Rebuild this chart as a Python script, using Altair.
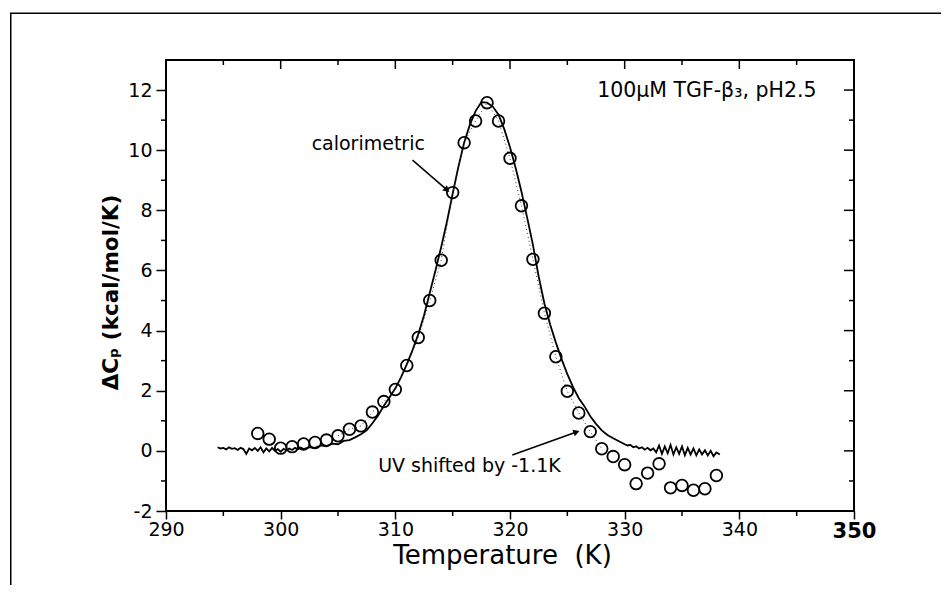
import altair as alt
import pandas as pd

# Calorimetric trace (K, kcal/mol/K)
cal_T = [294.5, 294.75, 295.0, 295.25, 295.5, 295.75, 296.0, 296.25, 296.5, 296.75,
         297.0, 297.25, 297.5, 297.75, 298.0, 298.25, 298.5, 298.75, 299.0, 299.25,
         299.5, 299.75, 300.0, 300.25, 300.5, 300.75, 301.0, 301.25, 301.5, 301.75,
         302.0, 302.5, 303.0, 303.5, 304.0, 304.5, 305.0, 305.5, 306.0, 306.5,
         307.0, 307.5, 308.0, 308.5, 309.0, 309.5, 310.0, 310.5, 311.0, 311.5,
         312.0, 312.5, 313.0, 313.5, 314.0, 314.5, 315.0, 315.5, 316.0, 316.5,
         317.0, 317.5, 318.0, 318.5, 319.0, 319.5, 320.0, 320.5, 321.0, 321.5,
         322.0, 322.5, 323.0, 323.5, 324.0, 324.5, 325.0, 325.5, 326.0, 326.5,
         327.0, 327.5, 328.0, 328.5, 329.0, 329.5, 330.0, 330.25, 330.5, 330.75,
         331.0, 331.25, 331.5, 331.75, 332.0, 332.25, 332.5, 332.75, 333.0, 333.25,
         333.5, 333.75, 334.0, 334.25, 334.5, 334.75, 335.0, 335.25, 335.5, 335.75,
         336.0, 336.25, 336.5, 336.75, 337.0, 337.25, 337.5, 337.75, 338.0, 338.3]
cal_Cp = [0.12, 0.08, 0.10, 0.05, 0.12, 0.07, 0.09, 0.03, 0.10, 0.06,
          -0.10, 0.08, 0.02, 0.10, 0.00, 0.12, -0.05, 0.08, -0.02, 0.10,
          0.00, 0.06, -0.03, 0.07, 0.02, 0.08, 0.03, 0.10, 0.05, 0.11,
          0.06, 0.12, 0.10, 0.18, 0.15, 0.24, 0.22, 0.33, 0.36, 0.45,
          0.55, 0.68, 0.92, 1.18, 1.50, 1.78, 2.08, 2.45, 2.88, 3.35,
          3.88, 4.50, 5.25, 6.00, 6.78, 7.62, 8.55, 9.45, 10.25, 10.85,
          11.30, 11.60, 11.58, 11.45, 11.18, 10.70, 10.10, 9.40, 8.62, 7.75,
          6.85, 5.80, 4.90, 4.20, 3.60, 3.05, 2.55, 2.12, 1.75, 1.48,
          1.15, 0.90, 0.68, 0.53, 0.42, 0.32, 0.22, 0.18, 0.20, 0.12,
          0.15, 0.08, 0.12, 0.04, 0.10, 0.02, 0.08, -0.05, 0.18, -0.10,
          0.15, -0.08, 0.20, -0.12, 0.12, -0.10, 0.15, -0.15, 0.10, -0.12,
          0.08, -0.15, 0.05, -0.12, 0.02, -0.15, 0.00, -0.18, -0.05, -0.12]

# UV data shifted by -1.1 K (open circles)
uv_T = [298, 299, 300, 301, 302, 303, 304, 305, 306, 307, 308, 309, 310, 311,
        312, 313, 314, 315, 316, 317, 318, 319, 320, 321, 322, 323, 324, 325,
        326, 327, 328, 329, 330, 331, 332, 333, 334, 335, 336, 337, 338]
uv_Cp = [0.58, 0.39, 0.09, 0.14, 0.23, 0.28, 0.36, 0.50, 0.72, 0.83, 1.29, 1.64,
         2.04, 2.84, 3.77, 5.00, 6.34, 8.59, 10.25, 10.97, 11.58, 10.97, 9.73,
         8.15, 6.37, 4.58, 3.13, 1.98, 1.26, 0.64, 0.07, -0.19, -0.46, -1.09,
         -0.74, -0.43, -1.23, -1.15, -1.31, -1.26, -0.82]

# Axis tick values
x_major = [290, 300, 310, 320, 330, 340, 350]
x_minor = [295, 305, 315, 325, 335, 345]
y_major = [-2, 0, 2, 4, 6, 8, 10, 12]
y_minor = [-1, 1, 3, 5, 7, 9, 11]

# Annotations
note_text = ["100μM TGF-β₃, pH2.5", "calorimetric", "UV shifted by -1.1K"]
note_T = [327.6, 302.7, 308.5]
note_v = [11.77, 10.0, -0.70]
note_size = [20.5, 19, 19]

arrow_id = ["cal", "cal", "uv", "uv"]
arrow_T = [311.5, 314.5, 320.2, 325.8]
arrow_v = [9.67, 8.68, -0.14, 0.63]
head_T = [314.5, 325.8]
head_v = [8.68, 0.63]
head_angle = [41, 340]

W, H = 688, 451
PAD_R = 87
FONT = "DejaVu Sans"

xs = alt.Scale(domain=[290, 350], nice=False, zero=False)
ys = alt.Scale(domain=[-2, 13], nice=False, zero=False)

cal = pd.DataFrame({"T": cal_T, "Cp": cal_Cp})
uv = pd.DataFrame({"T": uv_T, "Cp": uv_Cp})
uv_fit = uv[(uv["T"] >= 305) & (uv["T"] <= 328)]

base_x = alt.X("T:Q", scale=xs,
               axis=alt.Axis(values=x_major, tickSize=8, labelPadding=1, labelFlush=False,
                             title="Temperature\u00a0\u00a0(K)", titleFontSize=26,
                             titleFont=FONT, titleFontWeight="normal", titlePadding=1,
                             titleX=336,
                             labelFontSize=alt.ExprRef("datum.value == 350 ? 21 : 19"),
                             labelFontWeight=alt.ExprRef("datum.value == 350 ? 'bold' : 'normal'"),
                             labelExpr="'' + datum.value"))
base_y = alt.Y("Cp:Q", scale=ys,
               axis=alt.Axis(values=y_major, tickSize=10, labelPadding=4, labelFlush=False,
                             title="ΔCₚ (kcal/mol/K)", titleFontSize=21.5, titleFont=FONT,
                             titleFontWeight="bold", titlePadding=5, titleY=232,
                             labelExpr="'' + datum.value"))

line = alt.Chart(cal).mark_line(color="black", strokeWidth=1.8, clip=True).encode(
    x=base_x, y=base_y, order="T:Q")

fit = alt.Chart(uv_fit).mark_line(color="#333333", strokeWidth=1, strokeDash=[1, 3]).encode(
    x=alt.X("T:Q", scale=xs), y=alt.Y("Cp:Q", scale=ys), order="T:Q")

pts = alt.Chart(uv).mark_point(shape="circle", filled=False, color="black",
                               size=135, strokeWidth=1.8, opacity=1).encode(
    x=alt.X("T:Q", scale=xs), y=alt.Y("Cp:Q", scale=ys))

# extra ticks (minor + mirrored on top/right)
xmaj = pd.DataFrame({"T": x_major})
xmin = pd.DataFrame({"T": x_minor})
ymaj = pd.DataFrame({"Cp": y_major})
ymin = pd.DataFrame({"Cp": y_minor})

tick_kw = dict(color="black", strokeWidth=1.5)
bot_minor = alt.Chart(xmin).mark_rule(**tick_kw).encode(
    x=alt.X("T:Q", scale=xs), y=alt.value(H), y2=alt.value(H + 5))
top_major = alt.Chart(xmaj).mark_rule(**tick_kw).encode(
    x=alt.X("T:Q", scale=xs), y=alt.value(0), y2=alt.value(9))
top_minor = alt.Chart(xmin).mark_rule(**tick_kw).encode(
    x=alt.X("T:Q", scale=xs), y=alt.value(0), y2=alt.value(5))
left_minor = alt.Chart(ymin).mark_rule(**tick_kw).encode(
    y=alt.Y("Cp:Q", scale=ys), x=alt.value(0), x2=alt.value(-5))
right_major = alt.Chart(ymaj).mark_rule(**tick_kw).encode(
    y=alt.Y("Cp:Q", scale=ys), x=alt.value(W), x2=alt.value(W - 10))
right_minor = alt.Chart(ymin).mark_rule(**tick_kw).encode(
    y=alt.Y("Cp:Q", scale=ys), x=alt.value(W), x2=alt.value(W - 5))

notes = pd.DataFrame({"text": note_text, "T": note_T, "v": note_v, "s": note_size})
note_marks = alt.Chart(notes).mark_text(font=FONT, align="left", baseline="alphabetic",
                                        color="black").encode(
    x=alt.X("T:Q", scale=xs), y=alt.Y("v:Q", scale=ys), text="text:N",
    size=alt.Size("s:Q", scale=None, legend=None))

arrows = pd.DataFrame({"id": arrow_id, "T": arrow_T, "v": arrow_v})
arrow_lines = alt.Chart(arrows).mark_line(color="black", strokeWidth=1.5).encode(
    x=alt.X("T:Q", scale=xs), y=alt.Y("v:Q", scale=ys), detail="id:N")
heads = pd.DataFrame({"T": head_T, "v": head_v, "a": head_angle})
arrow_heads = alt.Chart(heads).mark_point(shape="triangle-right", filled=True,
                                          color="black", size=50, opacity=1).encode(
    x=alt.X("T:Q", scale=xs), y=alt.Y("v:Q", scale=ys),
    angle=alt.Angle("a:Q", scale=None))

# outer figure frame: top and left edges as thin filled bars
frame_left = alt.Chart(xmaj.head(1)).mark_rect(color="black", strokeWidth=0).encode(
    x=alt.value(-156), x2=alt.value(-154.5), y=alt.value(-47), y2=alt.value(H + 74))
frame_top = alt.Chart(xmaj.head(1)).mark_rect(color="black", strokeWidth=0).encode(
    x=alt.value(-156), x2=alt.value(W + PAD_R), y=alt.value(-47.5), y2=alt.value(-46))

chart = alt.layer(
    frame_left, frame_top, line, fit, pts, bot_minor, top_major, top_minor, left_minor,
    right_major, right_minor, note_marks, arrow_lines, arrow_heads
).properties(
    width=W, height=H,
    autosize=alt.AutoSizeParams(type="none"),
    padding={"left": 158, "top": 52, "right": PAD_R, "bottom": 74},
    background="white",
).configure_view(
    stroke="black", strokeWidth=2
).configure_axis(
    grid=False, domain=False, tickColor="black", tickWidth=1.5,
    labelFont=FONT, labelFontSize=19, labelColor="black", titleColor="black",
)

chart.save("out.html", embed_options={"renderer": "svg", "actions": False})
